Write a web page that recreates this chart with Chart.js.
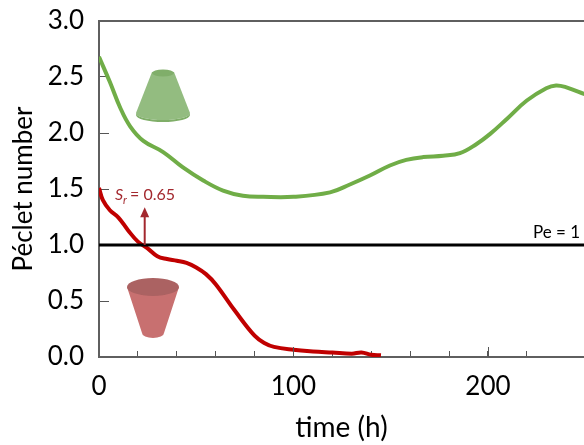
<!DOCTYPE html>
<html><head><meta charset="utf-8">
<style>
html,body{margin:0;padding:0;background:#fff;width:584px;height:445px;overflow:hidden}
#w{position:relative;width:584px;height:445px}
canvas{position:absolute;left:0;top:0}
svg{position:absolute;left:0;top:0;pointer-events:none}
</style>
<script src="https://cdn.jsdelivr.net/npm/chart.js@4"></script>
</head><body><div id="w">
<canvas id="c" width="584" height="445"></canvas>
<svg width="584" height="445" viewBox="0 0 584 445">
  <defs><filter id="b"><feGaussianBlur stdDeviation="0.5"/></filter></defs>
  <g filter="url(#b)">
  <path d="M152 72 L136 113 A27 7 0 0 0 190 113 L174 72 Z" fill="#93BC80"/>
  <path d="M136 113 A27 7 0 0 0 190 113 L190 115 A27 7 0 0 1 136 115 Z" fill="#7FAE68"/>
  <ellipse cx="163" cy="73" rx="11" ry="3.5" fill="#80AE6A"/>
  <path d="M127 287 L142 333 A11 5 0 0 0 164 333 L179 287 Z" fill="#C87070"/>
  <ellipse cx="153" cy="287" rx="26" ry="9" fill="#AB6262"/>
  </g>
</svg>
</div>
<script>
const xTicksLabeled = [0, 100, 200];
const greenTime = [0,5.6,10.8,16,22.8,33,43,53.6,63.8,74,84.4,100,118.8,129,139.3,149.6,158,166.7,177,185.6,194,201,210,220,230,235,240,250];
const greenPe = [2.68,2.455,2.23,2.06,1.93,1.83,1.695,1.576,1.486,1.44,1.43,1.43,1.47,1.54,1.62,1.71,1.76,1.785,1.797,1.82,1.90,1.99,2.13,2.29,2.40,2.425,2.41,2.345];
const redTime = [0,2,5.6,10,15,20,25,30,35,40,45,50,55,60,70,80,85,90,100,110,120,130,135,140,145];
const redPe = [1.51,1.4,1.31,1.245,1.13,1.03,.97,.9,.875,.86,.84,.8,.74,.65,.41,.19,.125,.09,.065,.05,.04,.03,.04,.02,.015];
const refTime = [0,250];
const refPe = [1,1];
const arrowTime = 23.5, arrowFrom = 1, arrowTo = 1.32;

const toPts=(a,b)=>a.map((x,i)=>({x,y:b[i]}));
const notes={id:'notes',afterDatasetsDraw(ch){
  const {ctx,scales:{x,y}}=ch;
  ctx.save();
  ctx.strokeStyle='#5f5f5f';ctx.lineWidth=2;
  ctx.beginPath();ctx.moveTo(x.left,y.getPixelForValue(3));ctx.lineTo(x.right,y.getPixelForValue(3));ctx.stroke();
  ctx.strokeStyle='#555';ctx.lineWidth=1;
  for(const v of xTicksLabeled.slice(1)){const p=Math.round(x.getPixelForValue(v))+.5;
    ctx.beginPath();ctx.moveTo(p,y.bottom);ctx.lineTo(p,y.bottom-10);ctx.stroke();}
  const ax=x.getPixelForValue(arrowTime),y0=y.getPixelForValue(arrowFrom),y1=y.getPixelForValue(arrowTo);
  ctx.strokeStyle=ctx.fillStyle='#A3282E';ctx.lineWidth=2;
  ctx.beginPath();ctx.moveTo(ax,y0);ctx.lineTo(ax,y1+6);ctx.stroke();
  ctx.beginPath();ctx.moveTo(ax,y1-2);ctx.lineTo(ax-4.5,y1+8);ctx.lineTo(ax+4.5,y1+8);ctx.closePath();ctx.fill();
  ctx.textBaseline='alphabetic';
  ctx.font='italic 16px Lato';ctx.fillText('S',115,200);
  ctx.font='italic 11px Lato';ctx.fillText('r',123,204);
  ctx.font='16px Lato';ctx.fillText('= 0.65',130,200);
  ctx.fillStyle='#000';ctx.font='17px Lato';ctx.fillText('Pe = 1',533,238);
  ctx.restore();
}};
new Chart(document.getElementById('c'),{
 type:'line',
 data:{datasets:[
  {data:toPts(refTime,refPe),borderColor:'#000',borderWidth:3,pointRadius:0,tension:0},
  {data:toPts(greenTime,greenPe),borderColor:'#70AD47',borderWidth:4,pointRadius:0,tension:.4},
  {data:toPts(redTime,redPe),borderColor:'#C00000',borderWidth:4,pointRadius:0,tension:.4}
 ]},
 plugins:[notes],
 options:{
  responsive:false,animation:false,
  layout:{padding:{left:0,right:0,top:21,bottom:0}},
  plugins:{legend:{display:false},tooltip:{enabled:false}},
  scales:{
   x:{type:'linear',min:0,max:249.4,
    afterFit(s){s.height=88;s.paddingLeft=0;s.paddingRight=0},
    border:{color:'#5f5f5f',width:2},
    grid:{drawOnChartArea:false,tickLength:-6,tickColor:'#555',tickWidth:1},
    ticks:{stepSize:20,autoSkip:false,maxRotation:0,padding:20,color:'#000',font:{family:'Lato',size:26},
      callback:v=>xTicksLabeled.includes(v)?String(v):''},
    title:{display:true,text:'time (h)',color:'#000',font:{family:'Lato',size:28},padding:{top:0,bottom:0}}
   },
   y:{min:0,max:3,
    afterFit(s){s.width=99;s.paddingTop=0;s.paddingBottom=0},
    border:{color:'#5f5f5f',width:2},
    grid:{drawOnChartArea:false,tickLength:-10,tickColor:'#555',tickWidth:1},
    ticks:{stepSize:.5,padding:25,color:'#000',font:{family:'Lato',size:26},callback:v=>v.toFixed(1)},
    title:{display:true,text:'Péclet number',color:'#000',font:{family:'Lato',size:26},padding:{top:8,bottom:0}}
   }
  }
 }
});
</script></body></html>
